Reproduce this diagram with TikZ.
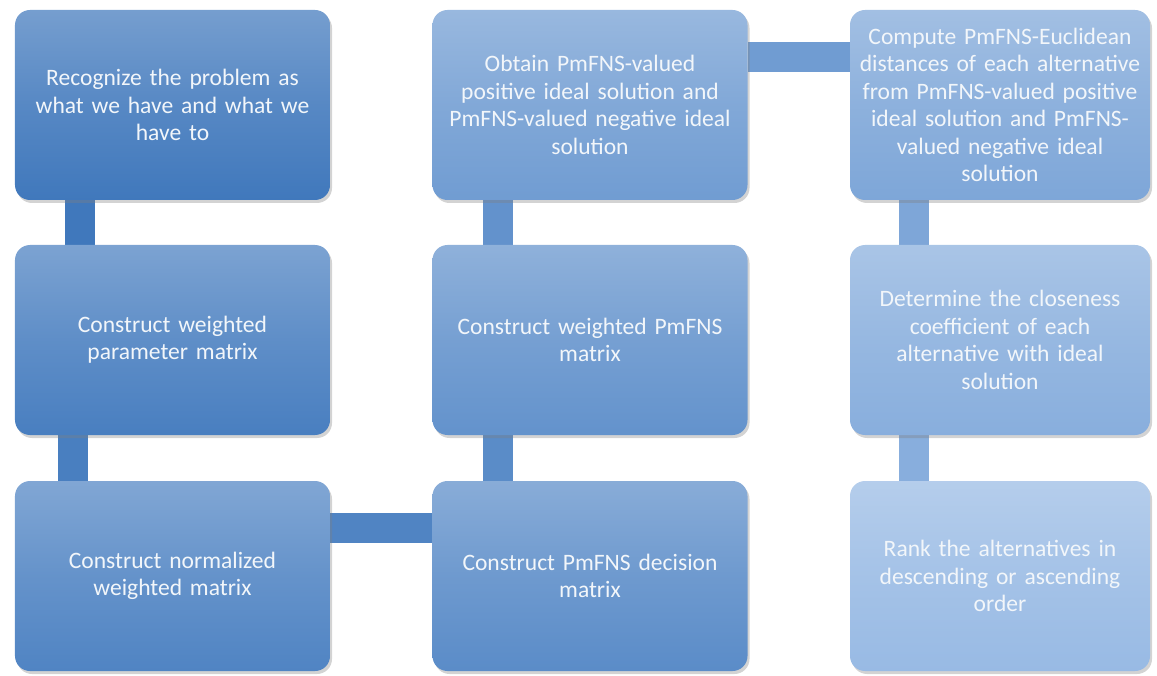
\documentclass[tikz,border=0pt]{standalone}
\usepackage{fontspec}
\setmainfont{Carlito}
\usepackage{xcolor}
\usetikzlibrary{shadows}
\usetikzlibrary{backgrounds}
\definecolor{first}{RGB}{64,120,188}
\definecolor{last}{RGB}{152,186,228}
\definecolor{boxtext}{RGB}{242,246,250}
\colorlet{stepA}{last!0!first}
\colorlet{stepB}{last!10!first}
\colorlet{stepC}{last!18!first}
\colorlet{stepD}{last!30!first}
\colorlet{stepE}{last!40!first}
\colorlet{stepF}{last!55!first}
\colorlet{stepG}{last!70!first}
\colorlet{stepH}{last!82!first}
\colorlet{stepI}{last!100!first}
\tikzset{
	stepbox/.style={rounded corners=0.3cm, minimum height=3.8cm, minimum width=6.3cm,
		text width=5.7cm, align=center, text=boxtext, font=\fontsize{13.4}{15.6}\selectfont,
		top color=#1!72!white, bottom color=#1, middle color=#1!88!white,
		drop shadow={opacity=0.35, shadow xshift=0.04cm, shadow yshift=-0.06cm}},
	link/.style={line width=0.6cm, draw=#1}
}

\begin{document}
\begin{tikzpicture}
		\useasboundingbox (0,0) rectangle (23.14,13.5);
		
		%steps, first column
		\node[stepbox=stepA] (recognize) at (3.45,11.4) {Recognize the problem as\\ what we have and what we\\ have to};
		\node[stepbox=stepB] (weightpar) at (3.45,6.7) {Construct weighted\\ parameter matrix};
		\node[stepbox=stepC] (normmat) at (3.45,1.98) {Construct normalized\\ weighted matrix};
		
		%steps, second column
		\node[stepbox=stepD] (decision) at (11.8,1.98) {Construct PmFNS decision\\ matrix};
		\node[stepbox=stepE] (weightpm) at (11.8,6.7) {Construct weighted PmFNS\\ matrix};
		\node[stepbox=stepF] (ideal) at (11.8,11.4) {Obtain PmFNS-valued\\ positive ideal solution and\\ PmFNS-valued negative ideal\\ solution};
		
		%steps, third column
		\node[stepbox=stepG, minimum width=6.0cm] (distance) at (20.0,11.4) {Compute PmFNS-Euclidean\\ distances of each alternative\\ from PmFNS-valued positive\\ ideal solution and PmFNS-\\ valued negative ideal\\ solution};
		\node[stepbox=stepH, minimum width=6.0cm] (closeness) at (20.0,6.7) {Determine the closeness\\ coefficient of each\\ alternative with ideal\\ solution};
		\node[stepbox=stepI, minimum width=6.0cm] (rank) at (20.0,1.98) {Rank the alternatives in\\ descending or ascending\\ order};
		
		%links behind the boxes
		\begin{scope}[on background layer]
		\draw[link=stepA] ([xshift=-1.85cm]recognize.south) -- ([xshift=-1.85cm]weightpar.north);
		\draw[link=stepB] ([xshift=-2.0cm]weightpar.south) -- ([xshift=-2.0cm]normmat.north);
		\draw[link=stepC] ([yshift=0.96cm]normmat.east) -- ([yshift=0.96cm]decision.west);
		\draw[link=stepD] ([xshift=-1.85cm]decision.north) -- ([xshift=-1.85cm]weightpm.south);
		\draw[link=stepE] ([xshift=-1.85cm]weightpm.north) -- ([xshift=-1.85cm]ideal.south);
		\draw[link=stepF] ([yshift=0.95cm]ideal.east) -- ([yshift=0.95cm]distance.west);
		\draw[link=stepG] ([xshift=-1.72cm]distance.south) -- ([xshift=-1.72cm]closeness.north);
		\draw[link=stepH] ([xshift=-1.72cm]closeness.south) -- ([xshift=-1.72cm]rank.north);
		\end{scope}
	\end{tikzpicture}
\end{document}
